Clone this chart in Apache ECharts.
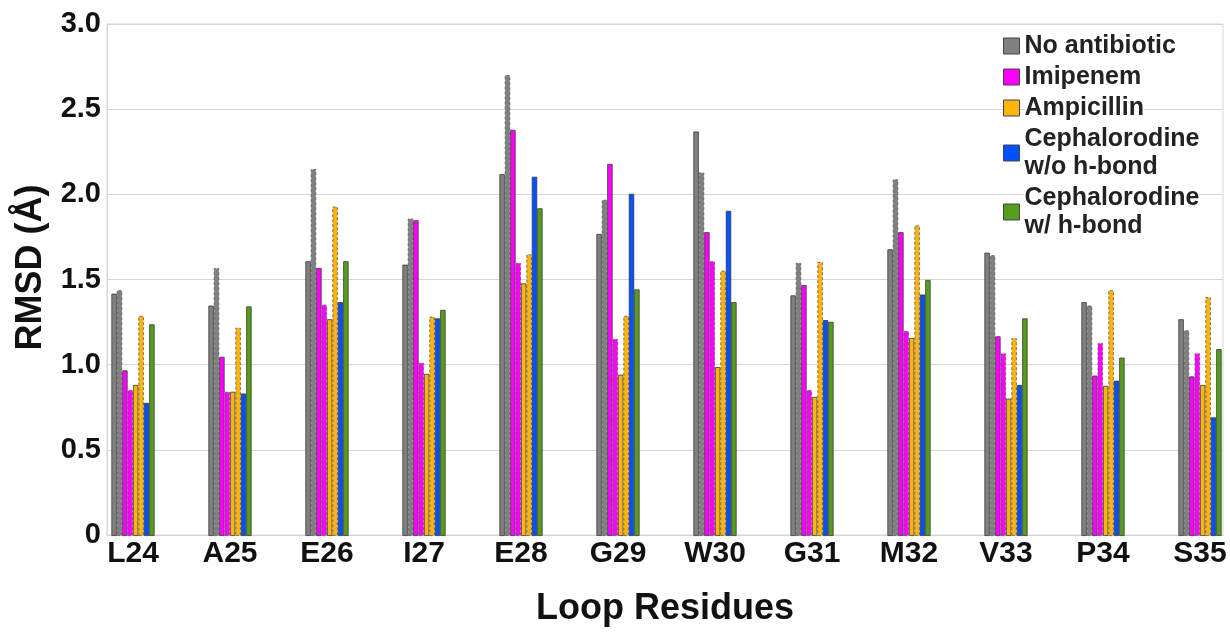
<!DOCTYPE html>
<html>
<head>
<meta charset="utf-8">
<script src="https://cdn.jsdelivr.net/npm/echarts@6/dist/echarts.min.js"></script>
<style>
  html, body { margin: 0; padding: 0; background: #fff; }
  #chart { width: 1230px; height: 632px; }
</style>
</head>
<body>
<div id="chart"></div>
<script>
// loop residues on the x axis
const residues = ['L24', 'A25', 'E26', 'I27', 'E28', 'G29', 'W30', 'G31', 'M32', 'V33', 'P34', 'S35'];
const yTicks = [0, 0.5, 1.0, 1.5, 2.0, 2.5, 3.0];

// two runs per system for the first three, one for each cephalorodine case
const noAntibiotic1 = [1.42, 1.35, 1.61, 1.59, 2.12, 1.77, 2.37, 1.41, 1.68, 1.66, 1.37, 1.27];
const noAntibiotic2 = [1.44, 1.57, 2.15, 1.86, 2.70, 1.97, 2.13, 1.60, 2.09, 1.645, 1.35, 1.205];
const imipenem1 = [0.97, 1.05, 1.57, 1.85, 2.38, 2.18, 1.78, 1.47, 1.78, 1.17, 0.94, 0.935];
const imipenem2 = [0.855, 0.845, 1.355, 1.015, 1.60, 1.155, 1.61, 0.855, 1.20, 1.07, 1.13, 1.07];
const ampicillin1 = [0.885, 0.845, 1.27, 0.95, 1.48, 0.945, 0.99, 0.815, 1.16, 0.805, 0.88, 0.885];
const ampicillin2 = [1.29, 1.22, 1.93, 1.285, 1.65, 1.29, 1.555, 1.605, 1.82, 1.16, 1.44, 1.40];
const cephWithout = [0.78, 0.835, 1.37, 1.275, 2.105, 2.005, 1.905, 1.265, 1.415, 0.885, 0.91, 0.695];
const cephWith = [1.24, 1.345, 1.61, 1.325, 1.92, 1.445, 1.37, 1.255, 1.50, 1.275, 1.045, 1.095];

const NAME_NONE = 'No antibiotic';
const NAME_IMI = 'Imipenem';
const NAME_AMP = 'Ampicillin';
const NAME_CWO = 'Cephalorodine\nw/o h-bond';
const NAME_CW = 'Cephalorodine\nw/ h-bond';

const FONT = '"Liberation Sans", Arial, sans-serif';

function barSeries(name, data, color, dashed) {
  return {
    type: 'bar',
    name: name,
    data: data,
    xAxisIndex: 1,
    yAxisIndex: 1,
    barWidth: 5.4,
    barGap: '0%',
    clip: false,
    itemStyle: {
      color: color,
      borderColor: dashed ? '#5a5a5a' : '#3a3a3a',
      borderWidth: 0.8,
      borderType: dashed ? [3, 2] : 'solid'
    },
    emphasis: { disabled: true }
  };
}

const chart = echarts.init(document.getElementById('chart'));

chart.setOption({
  backgroundColor: '#fff',
  animation: false,
  textStyle: { fontFamily: FONT },
  grid: [
    { left: 107, right: 7, top: 24, bottom: 96, show: true, borderColor: '#d6d6d6', borderWidth: 1 },
    { left: 133, right: 30, top: 24, bottom: 96 }
  ],
  legend: {
    data: [NAME_NONE, NAME_IMI, NAME_AMP, NAME_CWO, NAME_CW],
    orient: 'vertical',
    left: 998,
    top: 27,
    itemWidth: 16,
    itemHeight: 16,
    itemGap: 3,
    itemTextGap: 8,
    icon: 'rect',
    itemStyle: { borderColor: '#444', borderWidth: 1, borderType: 'solid' },
    textStyle: {
      fontFamily: FONT,
      fontSize: 25,
      fontWeight: 'bold',
      color: '#222',
      lineHeight: 28,
      backgroundColor: '#fff'
    }
  },
  xAxis: [
    {
      type: 'category',
      gridIndex: 0,
      data: residues,
      show: true,
      axisLabel: { show: false },
      axisTick: { show: false },
      axisLine: { lineStyle: { color: '#d6d6d6' } },
      name: 'Loop Residues',
      nameLocation: 'middle',
      nameGap: 56,
      nameTextStyle: { fontFamily: FONT, fontSize: 36, fontWeight: 'bold', color: '#111' }
    },
    {
      type: 'category',
      gridIndex: 1,
      data: residues,
      boundaryGap: false,
      axisLine: { show: false },
      axisTick: { show: false },
      axisLabel: {
        margin: 3,
        fontFamily: FONT,
        fontSize: 30,
        fontWeight: 'bold',
        color: '#111'
      }
    }
  ],
  yAxis: [
    {
      type: 'value',
      gridIndex: 0,
      min: 0,
      max: 3,
      interval: 0.5,
      name: 'RMSD (Å)',
      nameLocation: 'middle',
      nameGap: 58,
      nameTextStyle: {
        fontFamily: FONT,
        fontSize: 36,
        fontWeight: 'bold',
        color: '#111',
        padding: [0, 0, 0, 24]
      },
      axisLine: { show: true, lineStyle: { color: '#d6d6d6' } },
      axisTick: { show: false },
      splitLine: { lineStyle: { color: '#d6d6d6', width: 1 } },
      axisLabel: {
        margin: 6,
        fontFamily: FONT,
        fontSize: 29,
        fontWeight: 'bold',
        color: '#111',
        formatter: function (v) {
          return yTicks.indexOf(v) === 0 ? '0' : v.toFixed(1);
        }
      }
    },
    {
      type: 'value',
      gridIndex: 1,
      min: 0,
      max: 3,
      interval: 0.5,
      show: false,
      splitLine: { show: false }
    }
  ],
  series: [
    barSeries(NAME_NONE, noAntibiotic1, '#808080', false),
    barSeries(NAME_NONE, noAntibiotic2, '#808080', true),
    barSeries(NAME_IMI, imipenem1, '#ff00ff', false),
    barSeries(NAME_IMI, imipenem2, '#ff00ff', true),
    barSeries(NAME_AMP, ampicillin1, '#ffb30f', false),
    barSeries(NAME_AMP, ampicillin2, '#ffb30f', true),
    barSeries(NAME_CWO, cephWithout, '#0050ff', false),
    barSeries(NAME_CW, cephWith, '#579d1c', false)
  ]
});
</script>
</body>
</html>
